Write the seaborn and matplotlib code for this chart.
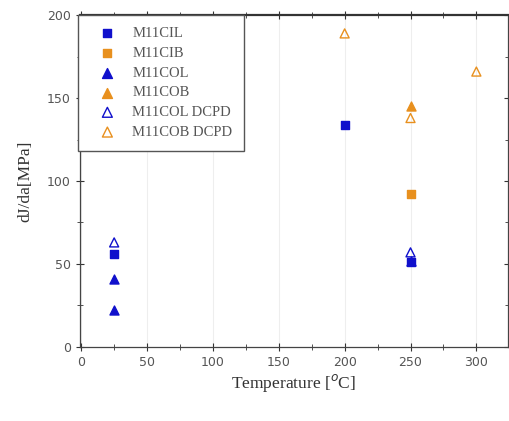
import matplotlib
matplotlib.use("Agg")
import matplotlib.pyplot as plt
import pandas as pd
import seaborn as sns
from matplotlib.ticker import MultipleLocator

# Values
series_names = ["M11CIL", "M11CIB", "M11COL", "M11COB", "M11COL DCPD", "M11COB DCPD"]
m11cil_temp = [25, 200, 250]
m11cil_val = [56, 134, 51]
m11cib_temp = [250]
m11cib_val = [92]
m11col_temp = [25, 25, 250]
m11col_val = [41, 22, 52]
m11cob_temp = [250]
m11cob_val = [145]
m11col_dcpd_temp = [25, 250]
m11col_dcpd_val = [63, 57]
m11cob_dcpd_temp = [200, 250, 300]
m11cob_dcpd_val = [189, 138, 166]

blue = "#1010cc"
orange = "#e8901e"

styles = {
    "M11CIL": dict(marker="s", color=blue, face=blue),
    "M11CIB": dict(marker="s", color=orange, face=orange),
    "M11COL": dict(marker="^", color=blue, face=blue),
    "M11COB": dict(marker="^", color=orange, face=orange),
    "M11COL DCPD": dict(marker="^", color=blue, face="none"),
    "M11COB DCPD": dict(marker="^", color=orange, face="none"),
}

data = {
    "M11CIL": (m11cil_temp, m11cil_val),
    "M11CIB": (m11cib_temp, m11cib_val),
    "M11COL": (m11col_temp, m11col_val),
    "M11COB": (m11cob_temp, m11cob_val),
    "M11COL DCPD": (m11col_dcpd_temp, m11col_dcpd_val),
    "M11COB DCPD": (m11cob_dcpd_temp, m11cob_dcpd_val),
}

sns.set_style("ticks")

fig = plt.figure(figsize=(5.09, 4.21), dpi=100)
ax = fig.add_axes([0.157, 0.176, 0.841, 0.788])

for name in series_names:
    temps, vals = data[name]
    df = pd.DataFrame({"Temperature": temps, "value": vals})
    st = styles[name]
    sns.scatterplot(
        data=df, x="Temperature", y="value", ax=ax,
        marker=st["marker"], s=28 if st["marker"] == "s" else 42,
        facecolor=st["face"], edgecolor=st["color"], linewidth=1.0,
        label=name, zorder=3,
    )

ax.set_xlim(-1, 324)
ax.set_ylim(0, 200)
ax.xaxis.set_major_locator(MultipleLocator(50))
ax.xaxis.set_minor_locator(MultipleLocator(25))
ax.yaxis.set_major_locator(MultipleLocator(50))
ax.yaxis.set_minor_locator(MultipleLocator(25))
ax.tick_params(which="both", direction="inout", top=True, right=True,
               labelsize=9, colors="#333333", labelcolor="#555555")
ax.tick_params(which="major", length=6)
ax.tick_params(which="minor", length=4)
ax.grid(axis="x", which="major", color="#eeeeee", linewidth=0.8)

for side in ["left", "bottom", "right"]:
    ax.spines[side].set_linewidth(0.9)
    ax.spines[side].set_color("#444444")
ax.spines["top"].set_linewidth(1.6)
ax.spines["top"].set_color("#333333")

ax.set_xlabel("Temperature [$^{o}$C]", fontsize=12.5, family="Liberation Serif",
              color="#333333", labelpad=2)
ax.set_ylabel("dJ/da[MPa]", fontsize=12.5, family="Liberation Serif",
              color="#333333", labelpad=10)

leg = ax.legend(loc="upper left", bbox_to_anchor=(-0.004, 1.0), frameon=True,
                fancybox=False, edgecolor="#555555", framealpha=1,
                prop={"family": "Liberation Serif", "size": 10.5},
                handletextpad=0.5, borderpad=0.8, labelspacing=0.45,
                borderaxespad=0, handlelength=2.4, markerscale=1.1)
for t in leg.get_texts():
    t.set_color("#555555")

plt.savefig("out.png", dpi=100)
plt.close()
